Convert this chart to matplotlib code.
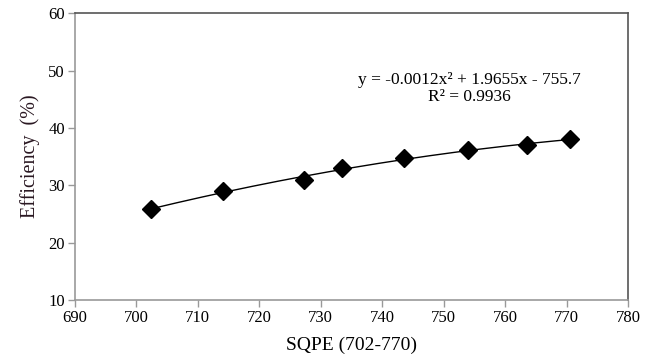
import numpy as np
import matplotlib
matplotlib.use('Agg')
import matplotlib.pyplot as plt

plt.rcParams['font.family'] = ['Liberation Serif', 'DejaVu Serif']

# SQPE vs efficiency
sqpe = [702.5, 714.1, 727.3, 733.4, 743.5, 754.0, 763.6, 770.6]
efficiency = [25.9, 29.0, 30.9, 33.0, 34.7, 36.2, 37.1, 38.0]
x_ticks = [690, 700, 710, 720, 730, 740, 750, 760, 770, 780]
y_ticks = [10, 20, 30, 40, 50, 60]
eq_text = 'y = -0.0012x² + 1.9655x - 755.7\nR² = 0.9936'

fig = plt.figure(figsize=(6.6, 3.58), dpi=100)
ax = fig.add_axes([0.113, 0.162, 0.839, 0.801])

# polynomial trendline (order 2), like the excel one
coef = np.polyfit(sqpe, efficiency, 2)
xx = np.linspace(min(sqpe), max(sqpe), 200)
ax.plot(xx, np.polyval(coef, xx), color='black', lw=1.0, zorder=2)
ax.plot(sqpe, efficiency, linestyle='none', marker='D', ms=9,
        color='black', zorder=3)

ax.text(754.2, 46.9, eq_text, ha='center', va='center', fontsize=12.5,
        linespacing=1.1)

ax.set_xlim(690, 780)
ax.set_ylim(10, 60)
ax.set_xticks(x_ticks)
ax.set_yticks(y_ticks)
ax.tick_params(direction='out', length=5, width=1, color='#999999',
               labelsize=12, pad=2)
ax.spines['left'].set_color('#999999')
ax.spines['bottom'].set_color('#999999')
ax.spines['top'].set_color('#555555')
ax.spines['right'].set_color('#555555')
for s in ax.spines.values():
    s.set_linewidth(1.2)

ax.set_xlabel('SQPE (702-770)', fontsize=14, labelpad=8)
ax.set_ylabel('Efficiency  (%)', fontsize=14.5, color='#2a1822', labelpad=6)

fig.savefig('out.png', dpi=100)
